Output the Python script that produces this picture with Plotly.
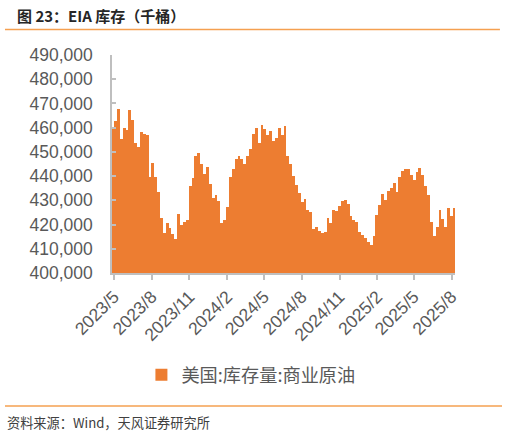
import pandas as pd
import plotly.graph_objects as go

# weekly US commercial crude stocks, thousand barrels
start_week = "2023-04-28"
stocks = [
    459600, 462600, 467600, 455200, 459700, 459200, 467100, 463300, 453700, 452200,
    458100, 457400, 456800, 439800, 445600, 439700, 433500, 422900, 416600, 420600,
    418500, 416300, 414100, 424200, 419700, 421100, 421900, 435800, 439400, 448100,
    449700, 445000, 440800, 443700, 436600, 431100, 432400, 429900, 420700, 421900,
    427400, 439500, 442900, 447200, 448500, 447000, 445000, 448200, 451400, 457300,
    460000, 453600, 460900, 459500, 457000, 458800, 454700, 455900, 459700, 457100,
    460700, 448500, 445100, 440200, 436500, 433000, 429300, 430700, 426000, 425200,
    418300, 419100, 417500, 416600, 417000, 422700, 420500, 426000, 425500, 427700,
    429700, 430300, 428400, 423400, 422000, 421000, 416900, 415600, 414600, 412700,
    411700, 415100, 423800, 427900, 432500, 430200, 433800, 435200, 437000, 433600,
    439800, 442300, 442900, 443100, 440400, 438400, 441800, 443200, 440400, 436100,
    432400, 420900, 415100, 419000, 426000, 422200, 419000, 426700, 423700, 426700,
]
weeks = pd.date_range(start_week, periods=len(stocks), freq="7D")

tick_dates = ["2023-05-01", "2023-08-01", "2023-11-01", "2024-02-01", "2024-05-01",
              "2024-08-01", "2024-11-01", "2025-02-01", "2025-05-01", "2025-08-01"]
tick_labels = ["2023/5", "2023/8", "2023/11", "2024/2", "2024/5",
               "2024/8", "2024/11", "2025/2", "2025/5", "2025/8"]

series_name = "美国:库存量:商业原油"
title_text = "图 23：EIA 库存（千桶）"
source_text = "资料来源：Wind，天风证券研究所"

bar_color = "#ED7D31"
rule_color = "#F5A050"
axis_color = "#BFBFBF"
label_color = "#595959"
cjk = "Noto Sans CJK SC"
latin = "Liberation Sans, Arial, sans-serif"

fig = go.Figure(go.Bar(
    x=weeks, y=stocks, name=series_name,
    marker=dict(color=bar_color, line=dict(width=0)),
    showlegend=True,
))

fig.update_layout(
    width=508, height=434,
    margin=dict(l=112, r=53, t=55, b=161),
    paper_bgcolor="white", plot_bgcolor="white",
    bargap=0,
    showlegend=True,
    legend=dict(orientation="h", x=0.405, xanchor="center", y=-0.468, yanchor="middle",
                itemwidth=30,
                font=dict(family=cjk, size=18.2, color=label_color),
                bgcolor="rgba(0,0,0,0)"),
    xaxis=dict(
        type="date",
        range=["2023-04-26 12:00", "2025-08-09 12:00"],
        tickvals=tick_dates, ticktext=tick_labels, tickangle=-45,
        tickfont=dict(family=latin, size=17.5, color=label_color),
        showline=True, linecolor=axis_color, linewidth=1.5,
        ticks="outside", ticklen=5, tickcolor=axis_color, tickwidth=1.5,
        showgrid=False, zeroline=False,
    ),
    yaxis=dict(
        range=[400000, 490000], dtick=10000, tickformat=",",
        tickfont=dict(family=latin, size=17.5, color=label_color),
        showline=True, linecolor=axis_color, linewidth=1.5,
        ticks="inside", ticklen=4, tickcolor=axis_color, tickwidth=1.5,
        ticklabelstandoff=14,
        showgrid=False, zeroline=False,
    ),
)

# header / footer rules and texts, placed in paper coords
fig.add_shape(type="line", xref="paper", yref="paper", x0=-0.312, x1=1.131, y0=1.117, y1=1.117,
              line=dict(color=rule_color, width=1.5))
fig.add_shape(type="line", xref="paper", yref="paper", x0=-0.312, x1=1.137, y0=-0.610, y1=-0.610,
              line=dict(color=rule_color, width=1.5))
fig.add_annotation(xref="paper", yref="paper", x=-0.283, y=1.183, xanchor="left", yanchor="middle",
                   text="<b>" + title_text + "</b>", showarrow=False,
                   font=dict(family=cjk, size=15, color="#262626"))
fig.add_annotation(xref="paper", yref="paper", x=-0.311, y=-0.688, xanchor="left", yanchor="middle",
                   text=source_text, showarrow=False,
                   font=dict(family=cjk, size=13.2, color="#404040"))

# drop the page's default body margin so the figure sits at the window's corner
fig.write_html("out.html", config={"displayModeBar": False},
               post_script="document.body.style.margin='0';")
